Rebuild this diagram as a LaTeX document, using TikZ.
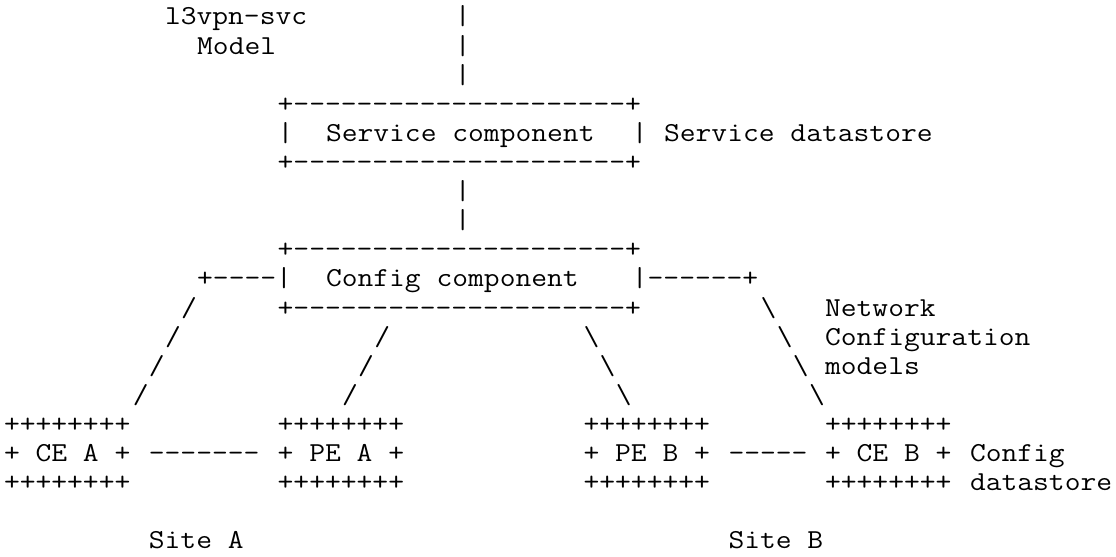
\documentclass[tikz,border=0pt]{standalone}
\usepackage{fontspec}
\usepackage{graphicx}
\ExplSyntaxOn
\cs_new:Npn \repdash #1 { \prg_replicate:nn {#1} {-\kern0pt} }
\ExplSyntaxOff
\newcommand{\asct}[1]{\scalebox{1.1195}[1]{#1}}
\tikzset{asc/.style={anchor=base west, inner sep=0pt, outer sep=0pt,
  font=\ttfamily\fontsize{13.7pt}{13.7pt}\selectfont}}
\begin{document}
\begin{tikzpicture}
\fill[white] (0,0) rectangle (558pt,-278.5pt);
\useasboundingbox (0,0) rectangle (558pt,-278.5pt);
\begin{scope}[shift={(2pt,-12.5pt)}, x=8.05pt, y=-14.55pt]
% top
\node[asc] (l3) at (10,0) {\asct{l3vpn-svc}};
\node[asc] (v0) at (28,0) {\asct{|}};
\node[asc] (mdl) at (12,1) {\asct{Model}};
\node[asc] (v1) at (28,1) {\asct{|}};
\node[asc] (v2) at (28,2) {\asct{|}};
% service box
\node[asc] (st) at (17,3) {\asct{+\repdash{21}+}};
\node[asc] (sl) at (17,4) {\asct{|}};
\node[asc] (sc) at (20,4) {\asct{Service component}};
\node[asc] (sr) at (39,4) {\asct{|}};
\node[asc] (sd) at (41,4) {\asct{Service datastore}};
\node[asc] (sb) at (17,5) {\asct{+\repdash{21}+}};
\node[asc] (v6) at (28,6) {\asct{|}};
\node[asc] (v7) at (28,7) {\asct{|}};
% config box
\node[asc] (ct) at (17,8) {\asct{+\repdash{21}+}};
\node[asc] (cl) at (12,9) {\asct{+\repdash{4}|}};
\node[asc] (cc) at (20,9) {\asct{Config component}};
\node[asc] (cr) at (39,9) {\asct{|\repdash{6}+}};
\node[asc] (a10) at (11,10) {\asct{/}};
\node[asc] (cb) at (17,10) {\asct{+\repdash{21}+}};
\node[asc] (d10) at (47,10) {\asct{\textbackslash}};
\node[asc] (nw) at (51,10) {\asct{Network}};
\node[asc] (a11) at (10,11) {\asct{/}};
\node[asc] (b11) at (23,11) {\asct{/}};
\node[asc] (c11) at (36,11) {\asct{\textbackslash}};
\node[asc] (d11) at (48,11) {\asct{\textbackslash}};
\node[asc] (ncf) at (51,11) {\asct{Configuration}};
\node[asc] (a12) at (9,12) {\asct{/}};
\node[asc] (b12) at (22,12) {\asct{/}};
\node[asc] (c12) at (37,12) {\asct{\textbackslash}};
\node[asc] (d12) at (49,12) {\asct{\textbackslash}};
\node[asc] (nm) at (51,12) {\asct{models}};
\node[asc] (a13) at (8,13) {\asct{/}};
\node[asc] (b13) at (21,13) {\asct{/}};
\node[asc] (c13) at (38,13) {\asct{\textbackslash}};
\node[asc] (d13) at (50,13) {\asct{\textbackslash}};
% devices
\node[asc] (ceat) at (0,14) {\asct{++++++++}};
\node[asc] (peat) at (17,14) {\asct{++++++++}};
\node[asc] (pebt) at (36,14) {\asct{++++++++}};
\node[asc] (cebt) at (51,14) {\asct{++++++++}};
\node[asc] (cea) at (0,15) {\asct{+ CE A +}};
\node[asc] (lka) at (9,15) {\asct{\repdash{7}}};
\node[asc] (pea) at (17,15) {\asct{+ PE A +}};
\node[asc] (peb) at (36,15) {\asct{+ PE B +}};
\node[asc] (lkb) at (45,15) {\asct{\repdash{5}}};
\node[asc] (ceb) at (51,15) {\asct{+ CE B +}};
\node[asc] (cfg) at (60,15) {\asct{Config}};
\node[asc] (ceab) at (0,16) {\asct{++++++++}};
\node[asc] (peab) at (17,16) {\asct{++++++++}};
\node[asc] (pebb) at (36,16) {\asct{++++++++}};
\node[asc] (cebb) at (51,16) {\asct{++++++++}};
\node[asc] (cds) at (60,16) {\asct{datastore}};
\node[asc] (sta) at (9,18) {\asct{Site A}};
\node[asc] (stb) at (45,18) {\asct{Site B}};
\end{scope}
\end{tikzpicture}
\end{document}
